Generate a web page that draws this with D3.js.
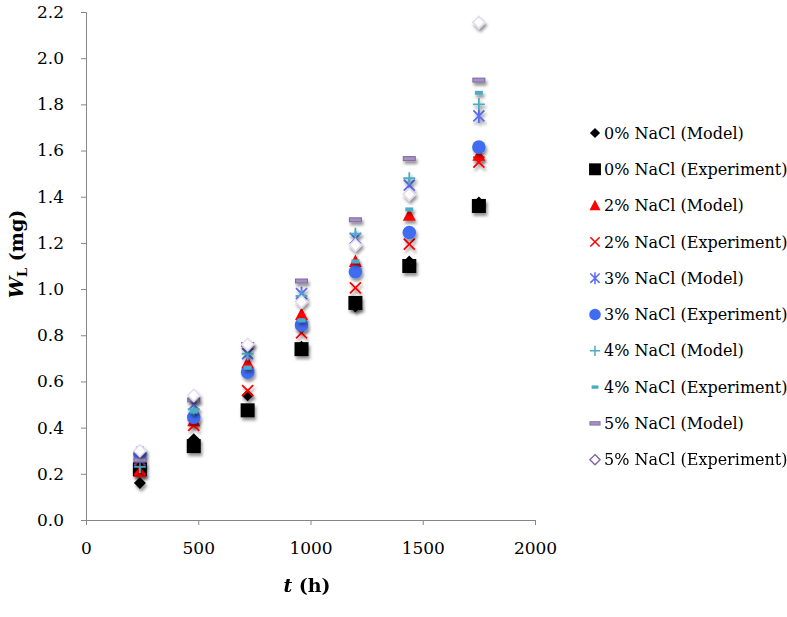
<!DOCTYPE html>
<html><head><meta charset="utf-8">
<script src="https://cdn.jsdelivr.net/npm/d3@7"></script>
<style>body{margin:0;background:#fff}svg{display:block}text{font-family:"DejaVu Serif",serif}</style>
</head><body><svg id="c" width="787" height="617"></svg>
<script>
const hours = [240, 480, 720, 960, 1200, 1440, 1750];
const nacl0Model = [0.16, 0.35, 0.54, 0.75, 0.925, 1.12, 1.375];
const nacl0Exp   = [0.22, 0.32, 0.475, 0.74, 0.94, 1.10, 1.36];
const nacl2Model = [0.21, 0.43, 0.68, 0.89, 1.12, 1.32, 1.58];
const nacl2Exp   = [0.22, 0.41, 0.56, 0.81, 1.005, 1.195, 1.55];
const nacl3Model = [0.26, 0.50, 0.72, 0.98, 1.22, 1.45, 1.75];
const nacl3Exp   = [0.285, 0.445, 0.64, 0.845, 1.075, 1.245, 1.615];
const nacl4Model = [0.23, 0.48, 0.72, 0.97, 1.24, 1.48, 1.80];
const nacl4Exp   = [0.31, 0.47, 0.66, 0.865, 1.12, 1.345, 1.85];
const nacl5Model = [0.26, 0.52, 0.76, 1.035, 1.30, 1.565, 1.905];
const nacl5Exp   = [0.30, 0.54, 0.76, 0.945, 1.19, 1.41, 2.155];
const seriesNames = ["0% NaCl (Model)","0% NaCl (Experiment)","2% NaCl (Model)","2% NaCl (Experiment)",
  "3% NaCl (Model)","3% NaCl (Experiment)","4% NaCl (Model)","4% NaCl (Experiment)","5% NaCl (Model)","5% NaCl (Experiment)"];
const seriesValues = [nacl0Model,nacl0Exp,nacl2Model,nacl2Exp,nacl3Model,nacl3Exp,nacl4Model,nacl4Exp,nacl5Model,nacl5Exp];
const xTicks = [0,500,1000,1500,2000];
const yTicks = [0,0.2,0.4,0.6,0.8,1.0,1.2,1.4,1.6,1.8,2.0,2.2];

const svg = d3.select("#c");
const defs = svg.append("defs");
const f = defs.append("filter").attr("id","sh").attr("x","-50%").attr("y","-50%").attr("width","200%").attr("height","200%");
f.append("feDropShadow").attr("dx",1.5).attr("dy",3).attr("stdDeviation",1.7).attr("flood-color","#000").attr("flood-opacity",0.42);

const x = d3.scaleLinear().domain([0,2000]).range([86,535]);
const y = d3.scaleLinear().domain([0,2.2]).range([520,12]);

const axisCol = "#868686";
const gx = svg.append("g").attr("transform","translate(0,520)")
  .call(d3.axisBottom(x).tickValues(xTicks).tickFormat(d3.format("d")).tickSizeOuter(0).tickSize(5));
const gy = svg.append("g").attr("transform","translate(86,0)")
  .call(d3.axisLeft(y).tickValues(yTicks).tickFormat(d3.format(".1f")).tickSizeOuter(0).tickSize(5));
[gx,gy].forEach(g=>{
  g.select(".domain").attr("stroke",axisCol).attr("stroke-width",1);
  g.selectAll(".tick line").attr("stroke",axisCol);
  g.selectAll(".tick text").attr("fill","#000").attr("font-size",17).attr("font-family","DejaVu Serif");
});
gy.selectAll(".tick text").attr("x",-22);
gx.selectAll(".tick text").attr("y",22);

function drawMarker(g, i, legend){
  const red="#ff0000", blue="#3f6cf0", ast="#5c6cf2", cyan="#4bacc6", purple="#8064a2";
  switch(i){
    case 0: g.append("path").attr("d","M0,-6L6,0L0,6L-6,0Z").attr("fill","#000"); break;
    case 1: g.append("rect").attr("x",-7).attr("y",-7).attr("width",14).attr("height",14).attr("fill","#000"); break;
    case 2: g.append("path").attr("d","M0,-7L6.5,5.5L-6.5,5.5Z").attr("fill",red); break;
    case 3: g.append("path").attr("d","M-5.5,-5.5L5.5,5.5M5.5,-5.5L-5.5,5.5").attr("stroke",red).attr("stroke-width",1.8).attr("fill","none"); break;
    case 4: g.append("path").attr("d","M-5.5,-5.5L5.5,5.5M5.5,-5.5L-5.5,5.5M0,-7L0,7").attr("stroke",ast).attr("stroke-width",1.8).attr("fill","none"); break;
    case 5: g.append("circle").attr("r",6.8).attr("fill",blue); break;
    case 6: g.append("path").attr("d","M-6,0L6,0M0,-6L0,6").attr("stroke",cyan).attr("stroke-width",1.8).attr("fill","none"); break;
    case 7: g.append("rect").attr("x",-4).attr("y",-2).attr("width",8).attr("height",4).attr("fill",cyan); break;
    case 8: g.append("rect").attr("x",-6).attr("y",-2).attr("width",12).attr("height",4).attr("fill","#a492c2").attr("stroke",purple).attr("stroke-width",1); break;
    case 9: g.append("path").attr("d","M0,-6L6,0L0,6L-6,0Z").attr("fill","#fff")
              .attr("stroke", legend ? purple : "#e4dcef").attr("stroke-width",1.6); break;
  }
}

const plot = svg.append("g");
seriesValues.forEach((vals,i)=>{
  const sg = plot.append("g").attr("filter","url(#sh)");
  vals.forEach((v,j)=>{
    const m = sg.append("g").attr("transform",`translate(${x(hours[j])},${y(v)})`);
    drawMarker(m,i,false);
  });
});

const leg = svg.append("g");
seriesNames.forEach((n,i)=>{
  const yy = 133 + i*36.3;
  const m = leg.append("g").attr("transform",`translate(595,${yy}) scale(0.85)`);
  drawMarker(m,i,true);
  leg.append("text").attr("x",604).attr("y",yy).attr("dy","0.35em").attr("font-size",16).attr("fill","#000").text(n);
});

const xt = svg.append("text").attr("x",307).attr("y",592).attr("text-anchor","middle").attr("font-size",19).attr("font-weight","bold");
xt.append("tspan").attr("font-style","italic").text("t");
xt.append("tspan").text(" (h)");
const yt = svg.append("text").attr("transform","translate(23,254) rotate(-90)").attr("text-anchor","middle").attr("font-size",19).attr("font-weight","bold");
yt.append("tspan").attr("font-style","italic").text("W");
yt.append("tspan").attr("font-size",13).attr("dy",4).text("L");
yt.append("tspan").attr("dy",-4).text(" (mg)");
</script></body></html>
